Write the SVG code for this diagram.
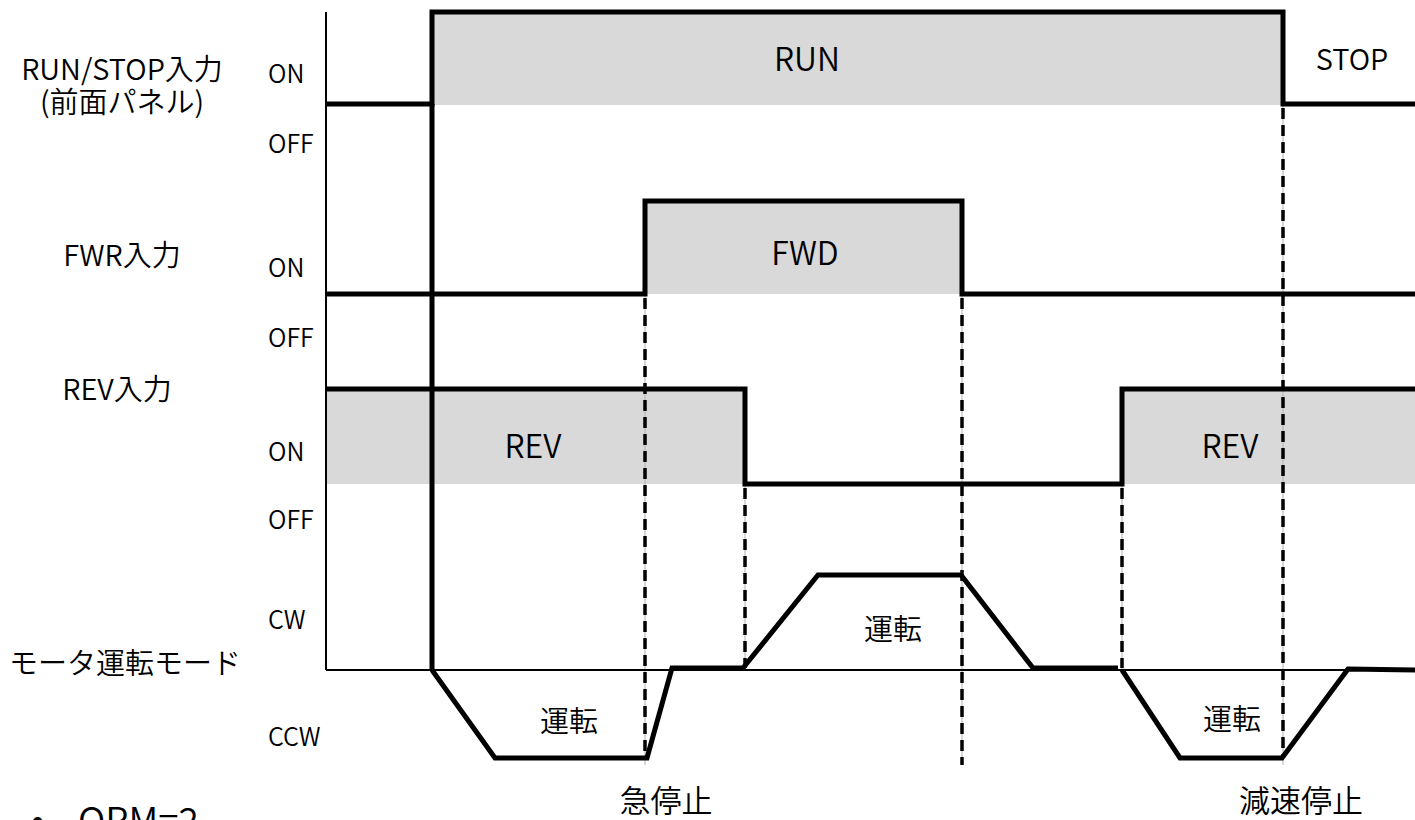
<svg xmlns="http://www.w3.org/2000/svg" width="1415" height="820" viewBox="0 0 1415 820">
<style>
text{font-family:"Noto Sans CJK JP","Noto Sans",sans-serif;fill:#000;font-weight:350}
.lbl{font-size:29px}
.st{font-size:25px}
.big{font-size:29px}
.sig-lbl{font-size:32px}
.ax{stroke:#000;stroke-width:2;fill:none}
.sig{stroke:#000;stroke-width:5;fill:none;stroke-linejoin:miter}
.fill{fill:#d9d9d9}
.guide{stroke:#b0b0b0;stroke-width:1;fill:none}
.dash{stroke:#000;stroke-width:3.5;stroke-dasharray:11 6;fill:none}
</style>
<rect width="1415" height="820" fill="#fff"/>
<g id="fills">
<rect class="fill" x="432" y="12" width="851" height="93"/>
<rect class="fill" x="645" y="201" width="317" height="93"/>
<rect class="fill" x="326" y="389" width="419" height="95"/>
<rect class="fill" x="1122" y="389" width="293" height="95"/>
</g>
<g id="guides">
<line class="guide" x1="432" y1="12" x2="432" y2="670"/>
<line class="guide" x1="645" y1="294" x2="645" y2="765"/>
<line class="guide" x1="745" y1="484" x2="745" y2="670"/>
<line class="guide" x1="962" y1="294" x2="962" y2="765"/>
<line class="guide" x1="1122" y1="484" x2="1122" y2="670"/>
<line class="guide" x1="1283" y1="105" x2="1283" y2="765"/>
</g>
<g id="axes">
<line class="ax" x1="326" y1="12" x2="326" y2="670"/>
<line class="ax" x1="326" y1="670" x2="1415" y2="670"/>
</g>
<g id="connectors">
<line class="dash" x1="645" y1="298" x2="645" y2="758"/>
<line class="dash" x1="745" y1="488" x2="745" y2="668"/>
<line class="dash" x1="962" y1="298" x2="962" y2="765"/>
<line class="dash" x1="1122" y1="488" x2="1122" y2="668"/>
<line class="dash" x1="1283" y1="108" x2="1283" y2="758"/>
</g>
<g id="run-stop-signal">
<polyline class="sig" points="326,104 432,104 432,12 1283,12 1283,104 1415,104"/>
<line class="sig" x1="432" y1="104" x2="432" y2="670"/>
</g>
<g id="fwr-signal">
<polyline class="sig" points="326,294 645,294 645,201 962,201 962,294 1415,294"/>
</g>
<g id="rev-signal">
<polyline class="sig" points="326,389 745,389 745,484 1122,484 1122,389 1415,389"/>
</g>
<g id="motor-signal">
<polyline class="sig" points="432,670 495,758 647,758 672,668 743,668 818,575 961,575 1033,668 1118,668"/>
<polyline class="sig" points="1122,670 1180,758 1282,758 1348,669 1415,670"/>
</g>
<g id="labels">
<text class="lbl" x="122" y="80" text-anchor="middle">RUN/STOP入力</text>
<text class="lbl" x="122" y="113" text-anchor="middle">(前面パネル)</text>
<text class="lbl" x="122" y="266" text-anchor="middle">FWR入力</text>
<text class="lbl" x="117" y="400" text-anchor="middle">REV入力</text>
<text class="lbl" x="125" y="674" text-anchor="middle">モータ運転モード</text>
<text class="st" x="268" y="83">ON</text>
<text class="st" x="268" y="153">OFF</text>
<text class="st" x="268" y="277">ON</text>
<text class="st" x="268" y="347">OFF</text>
<text class="st" x="268" y="461">ON</text>
<text class="st" x="268" y="529">OFF</text>
<text class="st" x="268" y="629">CW</text>
<text class="st" x="268" y="746">CCW</text>
<text class="sig-lbl" x="807" y="71" text-anchor="middle">RUN</text>
<text class="big" x="1352" y="70" text-anchor="middle">STOP</text>
<text class="sig-lbl" x="805" y="265" text-anchor="middle">FWD</text>
<text class="sig-lbl" x="533" y="458" text-anchor="middle">REV</text>
<text class="sig-lbl" x="1230" y="458" text-anchor="middle">REV</text>
<text class="big" x="893" y="640" text-anchor="middle">運転</text>
<text class="big" x="569" y="732" text-anchor="middle">運転</text>
<text class="big" x="1232" y="730" text-anchor="middle">運転</text>
<text class="big" x="666" y="812" text-anchor="middle" style="font-size:31px">急停止</text>
<text class="big" x="1301" y="812" text-anchor="middle" style="font-size:31px">減速停止</text>
<text x="31" y="834" style="font-size:40px">•</text>
<text x="78" y="834" style="font-size:37px">OPM=2</text>
</g>
</svg>
